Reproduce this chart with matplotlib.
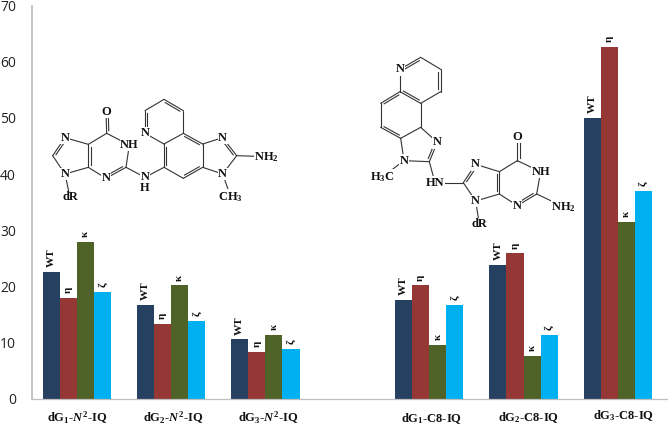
import matplotlib
matplotlib.use("Agg")
import matplotlib.pyplot as plt

plt.rcParams['font.family'] = 'Liberation Serif'
plt.rcParams['mathtext.fontset'] = 'custom'
plt.rcParams['mathtext.rm'] = 'Liberation Serif:bold'
plt.rcParams['mathtext.it'] = 'Liberation Serif:italic:bold'
plt.rcParams['mathtext.bf'] = 'Liberation Serif:bold'

groups = ['dG$_1$-$N^2$-IQ', 'dG$_2$-$N^2$-IQ', 'dG$_3$-$N^2$-IQ',
          'dG$_1$-C8-IQ', 'dG$_2$-C8-IQ', 'dG$_3$-C8-IQ']
polymerases = ['WT', 'η', 'κ', 'ζ']
wt = [22.6, 16.7, 10.6, 17.7, 23.9, 50.0]
eta = [18.0, 13.4, 8.3, 20.2, 25.9, 62.6]
kappa = [28.0, 20.2, 11.4, 9.6, 7.7, 31.5]
zeta = [19.1, 13.9, 8.9, 16.7, 11.4, 37.0]
yticks = [0, 10, 20, 30, 40, 50, 60, 70]

colors = ['#254061', '#953735', '#4F6228', '#00B0F0']

W, H = 668, 426
fig = plt.figure(figsize=(W / 100, H / 100), dpi=100)
ax = fig.add_axes([32 / W, 1 - 399 / H, (W - 32) / W, 393.5 / H])

# the two sets of bars sit further apart than the groups inside a set
xpos = [0, 1, 2, 3.74, 4.74, 5.74]
width = 0.181
series = [wt, eta, kappa, zeta]
for i, vals in enumerate(series):
    x = [p + (i - 1.5) * width for p in xpos]
    bars = ax.bar(x, vals, width, color=colors[i], linewidth=0)
    ax.bar_label(bars, labels=[polymerases[i]] * len(vals), rotation=90, padding=3.5,
                 fontsize=8, fontweight='bold', color='#111111')

ax.set_xlim(-0.478, 6.274)
ax.set_ylim(0, 70)
ax.set_yticks(yticks)
ax.set_xticks([])
ax.tick_params(axis='y', length=0, pad=11.5)
for t in ax.get_yticklabels():
    t.set_family('Open Sans')
    t.set_fontsize(10)
    t.set_color('#222222')
ax.spines['top'].set_visible(False)
ax.spines['right'].set_visible(False)
ax.spines['left'].set_color('#BFBFBF')
ax.spines['left'].set_linewidth(1.3)
ax.spines['bottom'].set_color('#BFBFBF')
ax.spines['bottom'].set_linewidth(0.9)

# group labels are not quite centred under the bars in the original
label_dx = [0, 2, 3, 2, 5, 6]
label_dy = [19, 19, 19, 20, 19, 17]
trans = ax.get_xaxis_transform()
for p, g, dx, dy in zip(xpos, groups, label_dx, label_dy):
    ax.annotate(g, (p, 0), xycoords=trans, xytext=(dx * 0.72, -dy * 0.72), textcoords='offset points',
                ha='center', va='center', fontsize=9, fontweight='bold', color='#111111')

# overlay in pixel coordinates for the two structures
ov = fig.add_axes([0, 0, 1, 1], facecolor='none')
ov.set_xlim(0, W)
ov.set_ylim(H, 0)
ov.axis('off')


def draw_structure(origin, atoms, labels, bonds):
    ox, oy = origin
    pts = {k: (ox + v[0] / 3, oy + v[1] / 3) for k, v in atoms.items()}
    for a, b, order in bonds:
        (x1, y1), (x2, y2) = pts[a], pts[b]
        ov.plot([x1, x2], [y1, y2], color='#333333', lw=0.8, solid_capstyle='round')
        if order == 2:
            # second line goes to the right of a->b on screen, list ring bonds clockwise
            dx, dy = x2 - x1, y2 - y1
            ln = (dx * dx + dy * dy) ** 0.5
            nx, ny = -dy / ln * 2.2, dx / ln * 2.2
            ov.plot([x1 + nx + dx * .12, x2 + nx - dx * .12], [y1 + ny + dy * .12, y2 + ny - dy * .12],
                    color='#333333', lw=0.8)
    for k, s in labels.items():
        x, y = pts[k]
        ov.text(x, y, s, ha='center', va='center', fontsize=9, fontweight='bold', color='#111111',
                bbox=dict(facecolor='white', edgecolor='none', pad=0.3))


left_atoms = {
    'N7': (75, 143), 'C8': (38, 197), 'N9': (75, 252), 'C4': (145, 232), 'C5': (145, 163),
    'C6': (200, 130), 'O': (198, 65), 'N1': (268, 165), 'C2': (258, 232), 'N3': (198, 265),
    'NH': (315, 262), 'H': (315, 295), 'dR': (90, 322),
    'a': (372, 232), 'b': (372, 162), 'Np': (315, 130), 'c': (315, 62), 'd': (372, 28),
    'e': (430, 62), 'f': (430, 130), 'g': (488, 162), 'h': (488, 232), 'i': (430, 265),
    'N2': (548, 143), 'j': (590, 197), 'N4': (548, 252), 'NH2': (680, 200), 'CH3': (572, 320),
}
left_labels = {'N7': 'N', 'N9': 'N', 'O': 'O', 'N1': 'NH', 'N3': 'N', 'NH': 'N', 'H': 'H', 'dR': 'dR',
               'Np': 'N', 'N2': 'N', 'N4': 'N', 'NH2': 'NH$_2$', 'CH3': 'CH$_3$'}
left_bonds = [
    ('C8', 'N7', 2), ('C8', 'N9', 1), ('N9', 'C4', 1), ('C4', 'C5', 2), ('C5', 'N7', 1),
    ('C5', 'C6', 1), ('C6', 'O', 2), ('C6', 'N1', 1), ('N1', 'C2', 1), ('C2', 'N3', 2),
    ('N3', 'C4', 1), ('C2', 'NH', 1), ('NH', 'a', 1), ('N9', 'dR', 1),
    ('a', 'b', 2), ('b', 'Np', 1), ('Np', 'c', 2), ('c', 'd', 1), ('d', 'e', 2), ('e', 'f', 1),
    ('f', 'b', 1), ('f', 'g', 2), ('g', 'h', 1), ('h', 'i', 2), ('i', 'a', 1),
    ('g', 'N2', 1), ('N2', 'j', 2), ('j', 'N4', 1), ('N4', 'h', 1), ('j', 'NH2', 1), ('N4', 'CH3', 1),
]

right_atoms = {
    'Np': (120, 88), 'a': (182, 52), 'b': (242, 88), 'c': (242, 155), 'd': (182, 190), 'e': (120, 155),
    'f': (182, 262), 'g': (122, 295), 'h': (62, 262), 'i': (62, 190),
    'N2': (232, 307), 'j': (208, 365), 'N3': (132, 362), 'Me': (68, 410), 'HN': (225, 428),
    'C8': (310, 428), 'N7': (347, 373), 'C5': (418, 395), 'C4': (418, 462), 'N9': (347, 483),
    'dR': (358, 553), 'C6': (472, 362), 'O': (472, 290), 'N1': (542, 395), 'C2': (530, 462),
    'N5': (472, 497), 'NH2': (610, 500),
}
right_labels = {'Np': 'N', 'N2': 'N', 'N3': 'N', 'Me': 'H$_3$C', 'HN': 'HN', 'N7': 'N', 'N9': 'N',
                'dR': 'dR', 'O': 'O', 'N1': 'NH', 'N5': 'N', 'NH2': 'NH$_2$'}
right_bonds = [
    ('Np', 'a', 2), ('a', 'b', 1), ('b', 'c', 2), ('c', 'd', 1), ('d', 'e', 2), ('e', 'Np', 1),
    ('d', 'f', 1), ('f', 'g', 1), ('g', 'h', 2), ('h', 'i', 1), ('i', 'e', 2),
    ('f', 'N2', 1), ('N2', 'j', 2), ('j', 'N3', 1), ('N3', 'g', 1), ('N3', 'Me', 1), ('j', 'HN', 1),
    ('HN', 'C8', 1), ('C8', 'N7', 2), ('N7', 'C5', 1), ('C5', 'C4', 2), ('C4', 'N9', 1), ('N9', 'C8', 1),
    ('N9', 'dR', 1), ('C5', 'C6', 1), ('C6', 'O', 2), ('C6', 'N1', 1), ('N1', 'C2', 1), ('C2', 'N5', 2),
    ('N5', 'C4', 1), ('C2', 'NH2', 1),
]

draw_structure((40, 90), left_atoms, left_labels, left_bonds)
draw_structure((360, 40), right_atoms, right_labels, right_bonds)

fig.savefig('out.png', dpi=100)
